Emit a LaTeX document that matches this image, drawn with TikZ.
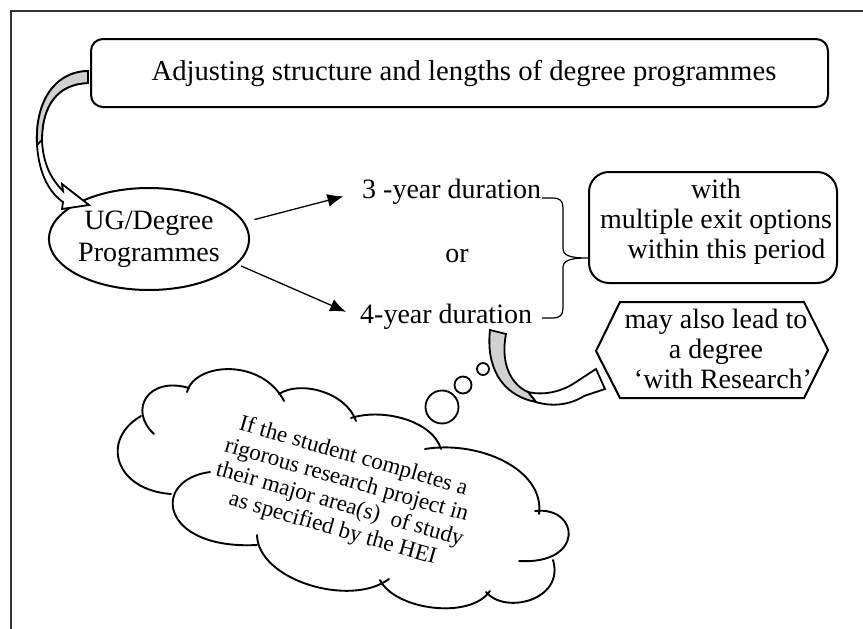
\documentclass[tikz,border=0pt]{standalone}
\usepackage{fontspec}
\setmainfont{Liberation Serif}
\usetikzlibrary{shapes.geometric,arrows.meta}
\tikzset{
  outline/.style={draw=black, line width=2pt},
  rbox/.style={outline, rounded corners=12pt, inner sep=0pt},
  lbl/.style={font=\fontsize{28}{30}\selectfont, inner sep=2pt},
  arr/.style={line width=1.3pt, -{Latex[length=16pt,width=13pt]}},
  bracestyle/.style={line width=1.2pt, line join=round},
  band/.style={draw=black, line width=1.8pt, line join=miter},
  backfill/.style={fill=black!18},
  bubble/.style={circle, draw=black, line width=1.8pt, inner sep=0pt},
  cloudline/.style={draw=black, line width=1.9pt, line cap=round},
}
\begin{document}
\begin{tikzpicture}[x=1pt,y=-1pt]
\useasboundingbox (0,0) rectangle (863,629);
% frame
\draw[line width=2.5pt, draw=black!80] (11,640) -- (11,11) -- (875,11);

% top box
\node[rbox, minimum width=737pt, minimum height=68pt] (top) at (459.5,73) {};
\node[lbl, font=\fontsize{28.7}{30}\selectfont] (toptxt) at (464,73) {Adjusting structure and lengths of degree programmes};

% ellipse
\node[outline, ellipse, minimum width=172pt, minimum height=102pt, inner sep=0pt,
      align=center, font=\fontsize{28}{32}\selectfont] (ug) at (149,239) {UG/Degree\\Programmes};

% durations
\node[lbl, anchor=west] (t3) at (360,192) {3 -year duration};
\node[lbl] (or) at (457,256) {or};
\node[lbl, anchor=west] (t4) at (358,317) {4-year duration};

\draw[arr, shorten <=10pt, shorten >=17pt] (ug.10) -- (t3.west);
\draw[arr, shorten <=4pt, shorten >=13pt] (ug.-16) -- (t4.west);

% brace
\draw[bracestyle] (542,198) -- (553,198) .. controls (560,198) and (563,201) .. (563,208)
  -- (563,248) .. controls (563,255) and (568,258) .. (588,258)
  .. controls (568,258) and (563,261) .. (563,268)
  -- (563,308) .. controls (563,315) and (560,318) .. (553,318) -- (542,318);

% with box
\node[rbox, rounded corners=20pt, minimum width=248pt, minimum height=111pt] (wbox) at (713,227.5) {};
\node[lbl, align=center] (wtxt) at (716,222) {with\\multiple exit options\\\ \ \ within this period};

% hexagon
\node[lbl, align=center] (hex) at (716,349) {may also lead to\\a degree\\\ \ `with Research'};
\draw[outline, line join=miter] (596,351) -- (620,302) -- (804,302) -- (828,350) -- (804,398) -- (620,398) -- cycle;

% curved arrow 1 (top box to ellipse)
\draw[band, fill=white] (88,71) .. controls (52,72) and (35,105) .. (37,145)
   .. controls (39,175) and (50,193) .. (63,202)
   -- (62,209) -- (89,205) -- (62,184) -- (63,191)
   .. controls (52,180) and (43,165) .. (42,140)
   .. controls (42,105) and (58,84) .. (88,83) -- cycle;
\fill[backfill] (88,71) .. controls (52,72) and (35,105) .. (37,145)
   -- (42,140) .. controls (42,105) and (58,84) .. (88,83) -- cycle;
\draw[band] (88,71) .. controls (52,72) and (35,105) .. (37,145)
   -- (42,140) .. controls (42,105) and (58,84) .. (88,83) -- cycle;

% curved arrow 2 (4-year to hexagon)
\draw[band, fill=white] (528,392) .. controls (545,396) and (563,391) .. (576,382)
   -- (596,369) -- (605,389) -- (584,396)
   .. controls (570,405) and (552,407) .. (536,402) -- cycle;
\draw[band, backfill] (490,330) .. controls (486,365) and (500,395) .. (536,402)
   -- (528,392) .. controls (512,385) and (500,365) .. (506,334) -- cycle;

% thought bubbles
\node[bubble, minimum size=12pt] (b1) at (483,369) {};
\node[bubble, minimum size=17pt] (b2) at (463,385) {};
\node[bubble, minimum size=33pt] (b3) at (442,407) {};

% cloud
\draw[cloudline] (171,494) .. controls (115,490) and (100,440) .. (141,416);
\draw[cloudline] (154,434) .. controls (128,410) and (148,376) .. (189,388);
\draw[cloudline] (187,392) .. controls (195,362) and (262,358) .. (284,401);
\draw[cloudline] (279,394) .. controls (300,380) and (346,392) .. (356,421);
\draw[cloudline] (351,418) .. controls (382,408) and (432,420) .. (441,449);
\draw[cloudline] (425,449) .. controls (480,440) and (545,470) .. (539,514);
\draw[cloudline] (535,511) .. controls (580,506) and (585,565) .. (519,561);
\draw[cloudline] (553,560) .. controls (565,600) and (505,615) .. (486,592);
\draw[cloudline] (490,591) .. controls (470,620) and (395,610) .. (380,580);
\draw[cloudline] (389,579) .. controls (350,608) and (258,580) .. (257,535);
\draw[cloudline] (210,472) .. controls (150,480) and (160,550) .. (257,545);

\node[rotate=-16, align=center, font=\fontsize{23}{25}\selectfont, inner sep=0pt] (ct) at (343,493)
  {If the student completes a\\rigorous research project in\\their major area(s)\ \ of study\\as specified by the HEI};
\end{tikzpicture}
\end{document}
